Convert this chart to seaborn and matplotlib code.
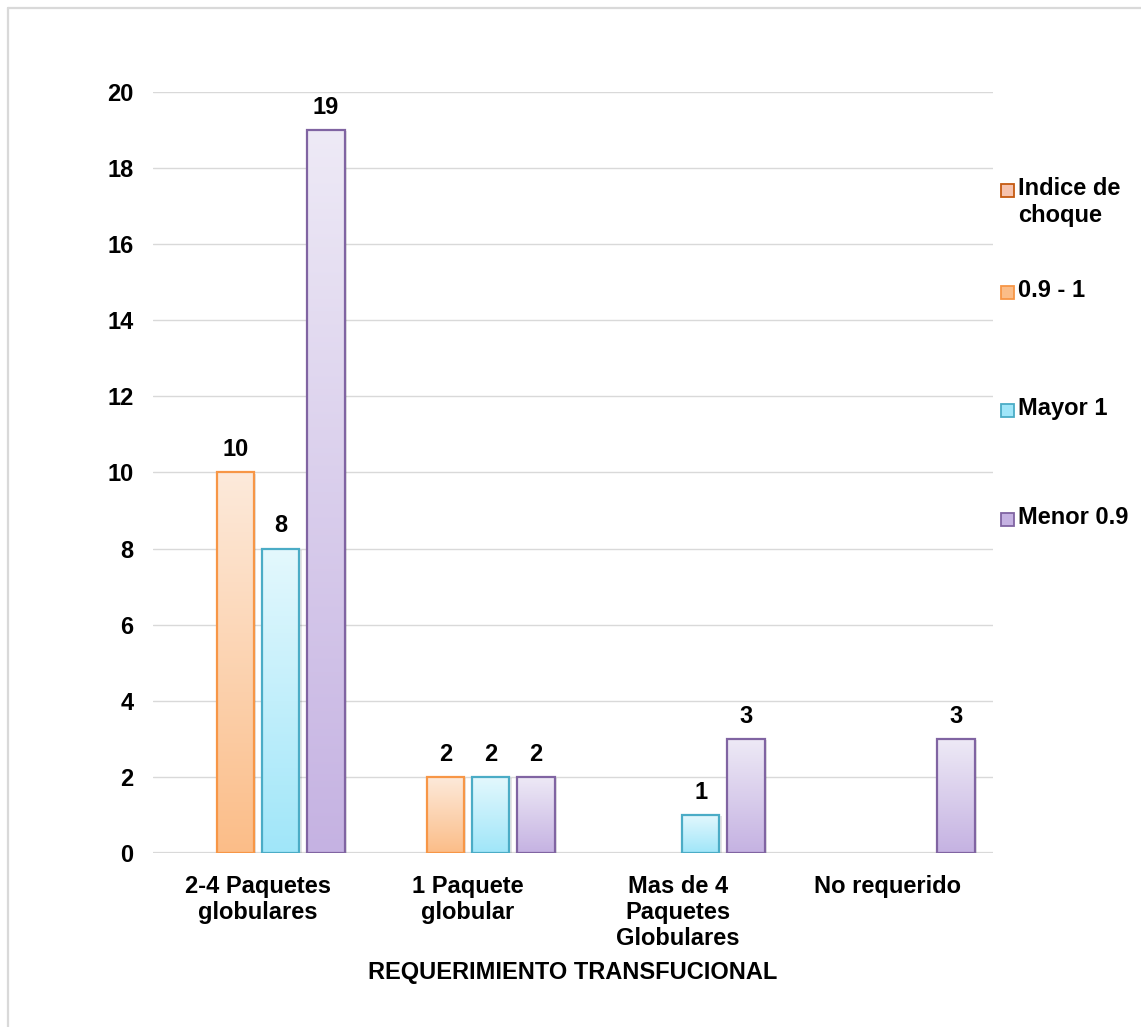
import numpy as np
import pandas as pd
import matplotlib
matplotlib.use("Agg")
import matplotlib.pyplot as plt
import seaborn as sns
from matplotlib.colors import LinearSegmentedColormap
from matplotlib.patches import Rectangle
from matplotlib.lines import Line2D
import matplotlib.transforms as mtransforms

# Transfusion requirement by shock index group
categories = ["2-4 Paquetes\nglobulares", "1 Paquete\nglobular",
              "Mas de 4\nPaquetes\nGlobulares", "No requerido"]
series = ["Indice de choque", "0.9 - 1", "Mayor 1", "Menor 0.9"]
indice_de_choque = [0, 0, 0, 0]
rango_09_1 = [10, 2, 0, 0]
mayor_1 = [8, 2, 1, 0]
menor_09 = [19, 2, 3, 3]

y_ticks = [0, 2, 4, 6, 8, 10, 12, 14, 16, 18, 20]
x_title = "REQUERIMIENTO TRANSFUCIONAL"

df = pd.DataFrame({
    "categoria": categories * 4,
    "serie": np.repeat(series, len(categories)),
    "valor": indice_de_choque + rango_09_1 + mayor_1 + menor_09,
})

# edge colour, gradient top colour, gradient bottom colour
styles = {
    "Indice de choque": ("#C55A11", "#FBDCD0", "#F6C3AE"),
    "0.9 - 1": ("#F79646", "#FDEADB", "#FBBD88"),
    "Mayor 1": ("#4BACC6", "#E4F8FD", "#A0E6F9"),
    "Menor 0.9": ("#8064A2", "#EEEAF6", "#C5B2E2"),
}

sns.set_theme(style="white")
plt.rcParams["font.family"] = ["Liberation Sans", "DejaVu Sans"]
plt.rcParams["font.weight"] = "bold"
plt.rcParams["text.color"] = "black"
plt.rcParams["xtick.color"] = "black"
plt.rcParams["ytick.color"] = "black"
plt.rcParams["axes.labelcolor"] = "black"

W, H = 1141, 1027
fig = plt.figure(figsize=(W / 100, H / 100), dpi=100)
ax = fig.add_axes([153 / W, 1 - 853 / H, 840 / W, 761 / H])

sns.barplot(data=df, x="categoria", y="valor", hue="serie",
            order=categories, hue_order=series,
            width=0.863, gap=0.17, dodge=True, legend=False,
            palette={s: styles[s][0] for s in series}, ax=ax)

grid_color = "#D9D9D9"
for yv in y_ticks[1:]:
    ax.axhline(yv, color=grid_color, lw=1.0, zorder=0)
ax.axhline(0, color=grid_color, lw=1.6, zorder=1)

for serie, container in zip(series, ax.containers):
    edge, top, bottom = styles[serie]
    cmap = LinearSegmentedColormap.from_list(serie, [bottom, top])
    labels = []
    for bar in container:
        h = bar.get_height()
        if not h or h <= 0:
            bar.set_visible(False)
            labels.append("")
            continue
        labels.append(f"{h:g}")
        x0, w = bar.get_x(), bar.get_width()
        # soft drop shadow
        shadow_tr = mtransforms.offset_copy(ax.transData, fig=fig, x=1.5, y=-1.0, units="points")
        ax.add_patch(Rectangle((x0, 0), w, h, transform=shadow_tr,
                               facecolor="#000000", alpha=0.10, lw=0, zorder=1.5))
        grad = np.linspace(0, 1, 256).reshape(-1, 1)
        img = ax.imshow(grad, extent=[x0, x0 + w, 0, h], origin="lower",
                        aspect="auto", cmap=cmap, zorder=2, interpolation="bicubic")
        img.set_clip_path(bar)
        bar.set_facecolor("none")
        bar.set_edgecolor(edge)
        bar.set_linewidth(1.6)
        bar.set_zorder(3)
    ax.bar_label(container, labels=labels, padding=8, fontsize=17,
                 fontweight="bold", color="black")

ax.set_xlim(-0.5, len(categories) - 0.5)
ax.set_ylim(0, 20)
ax.set_yticks(y_ticks)
ax.set_yticklabels([str(v) for v in y_ticks])
ax.tick_params(axis="y", length=0, pad=14, labelsize=17, labelcolor="black")
ax.tick_params(axis="x", length=0, pad=16, labelsize=17, labelcolor="black")
for lab in ax.get_xticklabels():
    lab.set_linespacing(1.15)
    lab.set_fontweight("bold")
for lab in ax.get_yticklabels():
    lab.set_fontweight("bold")
for sp in ax.spines.values():
    sp.set_visible(False)
ax.set_ylabel("")
ax.set_xlabel(x_title, fontsize=17, fontweight="bold", color="black")
ax.xaxis.set_label_coords(0.5, (853 - 973) / 761)
ax.xaxis.label.set_va("center")

# legend, drawn entry by entry down the right side
legend_rows = [190, 292, 410, 519]
for serie, yc in zip(series, legend_rows):
    edge, top, bottom = styles[serie]
    fig.patches.append(Rectangle((1001 / W, 1 - (yc + 6.5) / H), 13 / W, 13 / H,
                                 transform=fig.transFigure, facecolor=bottom,
                                 edgecolor=edge, lw=1.3))
legend_labels = ["Indice de\nchoque", "0.9 - 1", "Mayor 1", "Menor 0.9"]
for text, yc in zip(legend_labels, legend_rows):
    fig.text(1018 / W, 1 - (yc - 13) / H, text, fontsize=17, fontweight="bold",
             ha="left", va="top", linespacing=1.2, color="black")

# chart-area frame
fig.add_artist(Line2D([8 / W, 1], [1 - 8 / H, 1 - 8 / H], color=grid_color,
                      lw=1.6, transform=fig.transFigure))
fig.add_artist(Line2D([8 / W, 8 / W], [0, 1 - 8 / H], color=grid_color,
                      lw=1.6, transform=fig.transFigure))

fig.savefig("out.png", dpi=100, facecolor="white")
